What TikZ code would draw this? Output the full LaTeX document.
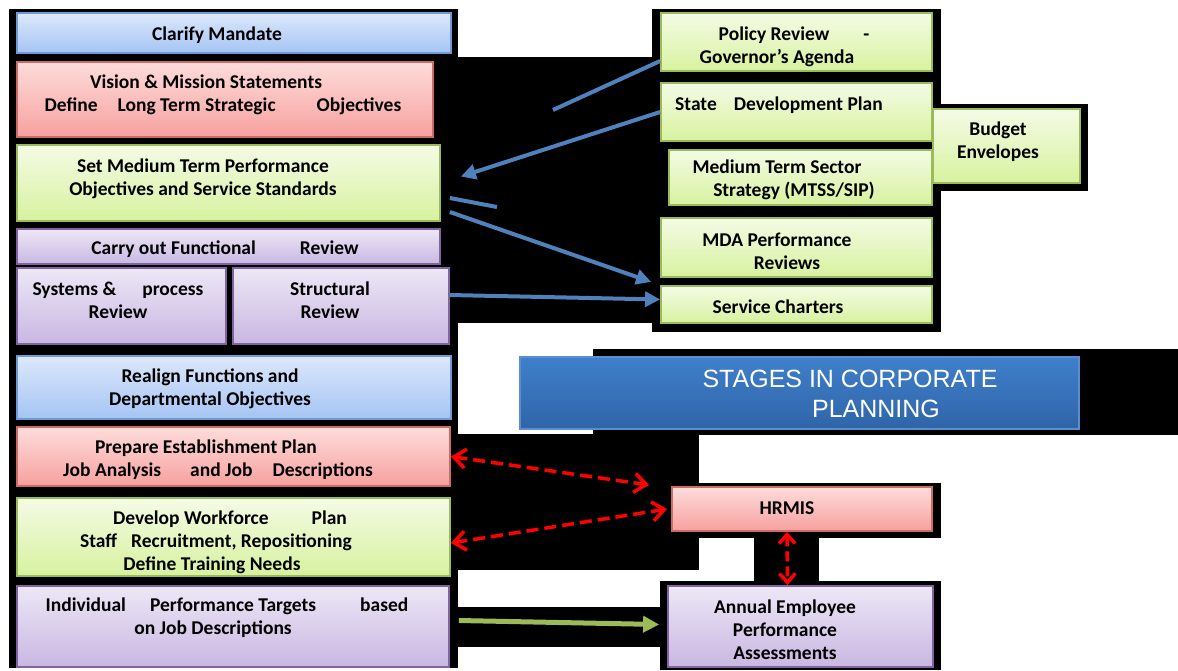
\documentclass[tikz,border=0pt]{standalone}
\usepackage{fontspec}
\setmainfont{Carlito}
\newfontfamily\titlefont{Liberation Sans}
\usetikzlibrary{arrows.meta}
\definecolor{bluetop}{HTML}{DCE8FB}
\definecolor{bluebot}{HTML}{A5C4F4}
\definecolor{blueline}{HTML}{6E9BD6}
\definecolor{redtop}{HTML}{FDDCDB}
\definecolor{redbot}{HTML}{F7A19E}
\definecolor{redline}{HTML}{CD6B67}
\definecolor{greentop}{HTML}{F4FBE5}
\definecolor{greenbot}{HTML}{D7F29F}
\definecolor{greenline}{HTML}{9BBB59}
\definecolor{violettop}{HTML}{EDE7F6}
\definecolor{violetbot}{HTML}{C9B7E2}
\definecolor{violetline}{HTML}{8064A2}
\definecolor{titletop}{HTML}{3F7FCB}
\definecolor{titlebot}{HTML}{2F65A8}
\definecolor{titleline}{HTML}{5A8ED0}
\definecolor{arrowblue}{HTML}{4F81BD}

\begin{document}
\begin{tikzpicture}[x=1pt,y=-1pt]
\tikzstyle{box}=[draw,line width=1.8pt,inner sep=0pt]
\tikzstyle{bluebox}=[box,draw=blueline,top color=bluetop,bottom color=bluebot]
\tikzstyle{redbox}=[box,draw=redline,top color=redtop,bottom color=redbot]
\tikzstyle{greenbox}=[box,draw=greenline,top color=greentop,bottom color=greenbot]
\tikzstyle{violetbox}=[box,draw=violetline,top color=violettop,bottom color=violetbot]
\tikzstyle{txt}=[inner sep=0pt,align=center,font=\bfseries\fontsize{19.5}{23}\selectfont]
\tikzstyle{link}=[line width=4pt,arrowblue,-{Triangle[length=15pt,width=15pt]}]
\tikzstyle{hrlink}=[line width=3.5pt,red,dash pattern=on 12pt off 6pt,{Straight Barb[length=12pt,width=19pt]}-{Straight Barb[length=12pt,width=19pt]}]
\useasboundingbox (0,0) rectangle (1178,670);
\fill[white] (0,0) rectangle (1178,670);
\fill[black] (9,9) rectangle (458,668);
\fill[black] (440,57) rectangle (660,323);
\fill[black] (652,9) rectangle (941,332);
\fill[black] (926,104) rectangle (1088,191);
\fill[black] (593,349) rectangle (1178,435);
\fill[black] (416,434) rectangle (699,570);
\fill[black] (672,483) rectangle (941,538);
\fill[black] (754,508) rectangle (819,600);
\fill[black] (660,581) rectangle (941,670);
\fill[black] (458,607) rectangle (660,647);

\path (234,33) node[bluebox,minimum width=434pt,minimum height=40pt] (clarify) {};
\path (225,99.5) node[redbox,minimum width=416pt,minimum height=75pt] (vision) {};
\path (228.5,183) node[greenbox,minimum width=423pt,minimum height=76pt] (setmed) {};
\path (228.5,246.5) node[violetbox,minimum width=423pt,minimum height=35pt] (carry) {};
\path (121.5,306) node[violetbox,minimum width=209pt,minimum height=76pt] (systems) {};
\path (341,306) node[violetbox,minimum width=216pt,minimum height=76pt] (structural) {};
\path (234,387.5) node[bluebox,minimum width=434pt,minimum height=63pt] (realign) {};
\path (233.5,456.5) node[redbox,minimum width=433pt,minimum height=59pt] (prepare) {};
\path (233.5,537) node[greenbox,minimum width=433pt,minimum height=78pt] (develop) {};
\path (233,626.5) node[violetbox,minimum width=432pt,minimum height=81pt] (individual) {};
\path (796.5,42) node[greenbox,minimum width=271pt,minimum height=58pt] (policy) {};
\path (796.5,112) node[greenbox,minimum width=271pt,minimum height=58pt] (state) {};
\path (800.5,177.5) node[greenbox,minimum width=263pt,minimum height=55pt] (mtss) {};
\path (1006.5,146) node[greenbox,minimum width=147pt,minimum height=74pt] (budget) {};
\path (796.5,247.5) node[greenbox,minimum width=271pt,minimum height=59pt] (mda) {};
\path (796.5,304.5) node[greenbox,minimum width=271pt,minimum height=37pt] (service) {};
\path (799.5,393) node[box,draw=titleline,top color=titletop,bottom color=titlebot,minimum width=559pt,minimum height=72pt] (title) {};
\path (802,509) node[redbox,minimum width=260pt,minimum height=44pt] (hrmis) {};
\path (800.5,626.5) node[violetbox,minimum width=265pt,minimum height=81pt] (annual) {};

\path (217,35) node[txt] (clarify-t) {Clarify Mandate};
\path (214.5,94.5) node[txt] (vision-t) {Vision \& Mission Statements\hspace*{17pt}\\\hspace*{17pt}Define\hspace{20pt}Long Term Strategic\hspace{41pt}Objectives};
\path (203,178.5) node[txt] (setmed-t) {Set Medium Term Performance\\Objectives and Service Standards};
\path (225,249) node[txt] (carry-t) {Carry out Functional\hspace{44pt}Review};
\path (118,300) node[txt] (systems-t) {Systems \&\hspace{26pt}process\\Review};
\path (330,300) node[txt] (structural-t) {Structural\\Review};
\path (210,388.5) node[txt] (realign-t) {Realign Functions and\\Departmental Objectives};
\path (212,459.5) node[txt] (prepare-t) {Prepare Establishment Plan\hspace*{12pt}\\\hspace*{12pt}Job Analysis\hspace{29pt}and Job\hspace{20pt}Descriptions};
\path (216,542) node[txt] (develop-t) {\hspace*{28pt}Develop Workforce\hspace{43pt}Plan\\Staff\hspace{14pt}Recruitment, Repositioning\hspace*{18pt}\\Define Training Needs\hspace*{8pt}};
\path (220,618) node[txt] (individual-t) {\hspace*{14pt}Individual\hspace{24pt}Performance Targets\hspace{44pt}based\\on Job Descriptions\hspace*{14pt}};
\path (785.5,46.5) node[txt] (policy-t) {\hspace*{17pt}Policy Review\hspace{34pt}-\\Governor’s Agenda\hspace*{17pt}};
\path (779,105) node[txt] (state-t) {State\hspace{17pt}Development Plan};
\path (785.5,179.5) node[txt] (mtss-t) {Medium Term Sector\hspace*{17pt}\\\hspace*{17pt}Strategy (MTSS/SIP)};
\path (998,142) node[txt] (budget-t) {Budget\\Envelopes};
\path (782,251) node[txt] (mda-t) {MDA Performance\hspace*{10pt}\\\hspace*{10pt}Reviews};
\path (778,307) node[txt] (service-t) {Service Charters};
\path (863,394) node[inner sep=0pt,align=center,white,font=\titlefont\fontsize{25}{30}\selectfont] (title-t) {STAGES IN CORPORATE\hspace*{26pt}\\\hspace*{26pt}PLANNING};
\path (787,508) node[txt] (hrmis-t) {HRMIS};
\path (785,629.5) node[txt] (annual-t) {Annual Employee\\Performance\\Assessments};

\coordinate (cut1) at (553,110);
\coordinate (cut2) at (497,207);
\draw[link,-] ([yshift=-19pt]policy.west) -- (cut1);
\draw[link,shorten >=21pt] (state.west) -- (setmed.east);
\draw[link,-] ([xshift=9pt,yshift=-15pt]setmed.east) -- (cut2);
\draw[link] ([xshift=9pt,yshift=-29pt]setmed.east) -- ([xshift=-9pt,yshift=-4pt]mda.south west);
\draw[link] ([yshift=11pt]structural.east) -- ([yshift=5pt]service.west);
\draw[hrlink] (prepare.east) -- ([xshift=-22pt,yshift=24pt]hrmis.west);
\draw[hrlink] ([yshift=-6pt]develop.east) -- ([xshift=-4pt]hrmis.west);
\draw[hrlink,dash pattern=on 10pt off 5pt,{Straight Barb[length=9pt,width=16pt]}-{Straight Barb[length=9pt,width=16pt]}] ([xshift=-15pt]hrmis.south) -- ([xshift=-13pt]annual.north);
\draw[line width=5pt,greenline,-{Triangle[length=16pt,width=16pt]}] ([xshift=9pt,yshift=6pt]individual.east) -- ([xshift=-8pt,yshift=2pt]annual.west);
\end{tikzpicture}
\end{document}
